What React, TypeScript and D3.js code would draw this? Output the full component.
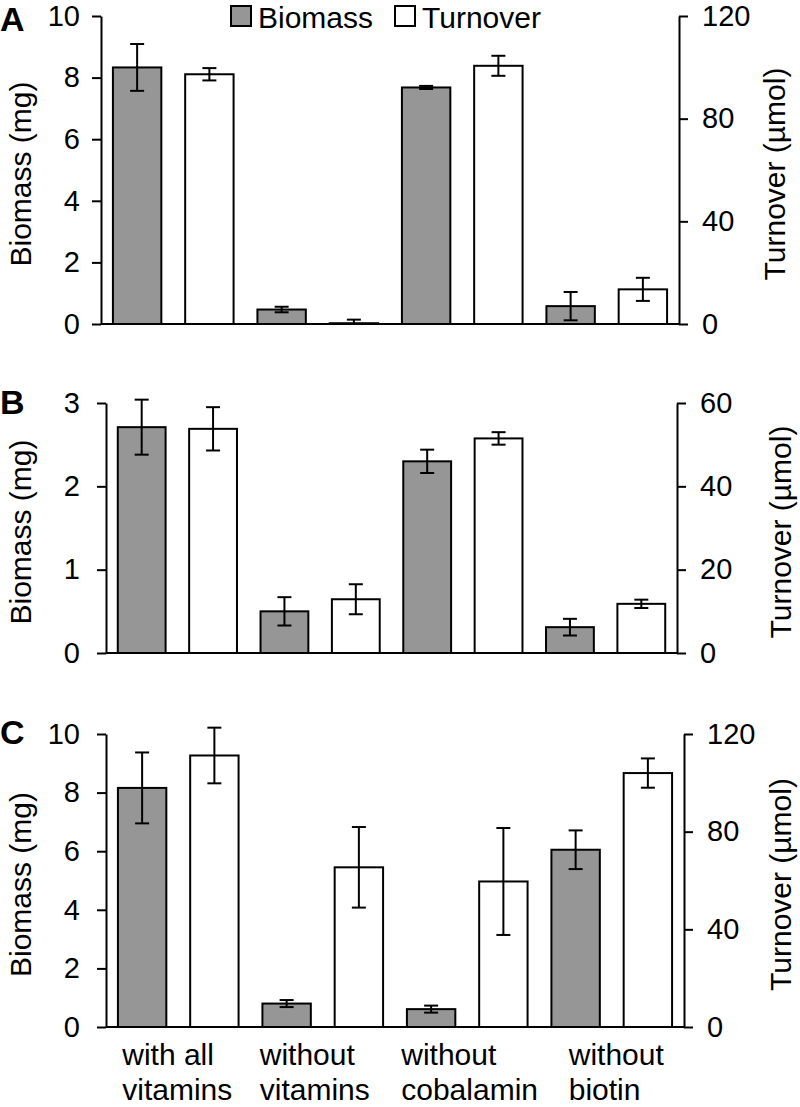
import * as d3 from 'd3';
import { useEffect, useRef } from 'react';

// category labels, two lines each
const categoryLines: string[][] = [
  ['with all', 'vitamins'],
  ['without', 'vitamins'],
  ['without', 'cobalamin'],
  ['without', 'biotin'],
];
const seriesNames = ['Biomass', 'Turnover'];

// panel A
const biomassA = [8.33, 0.47, 7.68, 0.58];
const biomassErrA = [0.76, 0.09, 0.05, 0.46];
const turnoverA = [97.3, 0.3, 100.6, 13.5];
const turnoverErrA = [2.4, 1.4, 3.9, 4.5];

// panel B
const biomassB = [2.71, 0.5, 2.3, 0.31];
const biomassErrB = [0.33, 0.17, 0.14, 0.1];
const turnoverB = [53.8, 12.9, 51.5, 11.8];
const turnoverErrB = [5.2, 3.6, 1.5, 1.0];

// panel C
const biomassC = [8.16, 0.8, 0.61, 6.05];
const biomassErrC = [1.21, 0.12, 0.12, 0.66];
const turnoverC = [111.2, 65.4, 59.6, 104.0];
const turnoverErrC = [11.4, 16.5, 21.9, 6.0];

// axis ticks
const biomassTicksA = [0, 2, 4, 6, 8, 10];
const turnoverTicksA = [0, 40, 80, 120];
const biomassTicksB = [0, 1, 2, 3];
const turnoverTicksB = [0, 20, 40, 60];
const biomassTicksC = [0, 2, 4, 6, 8, 10];
const turnoverTicksC = [0, 40, 80, 120];

const panels = [
  { label: 'A', bio: biomassA, bioErr: biomassErrA, turn: turnoverA, turnErr: turnoverErrA,
    bioTicks: biomassTicksA, turnTicks: turnoverTicksA,
    left: 101, right: 679, top: 16, bottom: 324, labelY: 31, rightTitleX: 785 },
  { label: 'B', bio: biomassB, bioErr: biomassErrB, turn: turnoverB, turnErr: turnoverErrB,
    bioTicks: biomassTicksB, turnTicks: turnoverTicksB,
    left: 106, right: 677, top: 403, bottom: 653, labelY: 414, rightTitleX: 791 },
  { label: 'C', bio: biomassC, bioErr: biomassErrC, turn: turnoverC, turnErr: turnoverErrC,
    bioTicks: biomassTicksC, turnTicks: turnoverTicksC,
    left: 106, right: 684, top: 734, bottom: 1027, labelY: 744, rightTitleX: 791 },
];

const labelDx = [-56, -63, -66, -43];
const GRAY = '#969696';
const FONT = '"Liberation Sans", Arial, Helvetica, sans-serif';

export default function App() {
  const ref = useRef<SVGSVGElement | null>(null);

  useEffect(() => {
    const svg = d3.select(ref.current);
    svg.selectAll('*').remove();
    const width = 800;
    const height = 1107;
    svg.attr('width', width).attr('height', height).attr('font-family', FONT);

    panels.forEach((p, pi) => {
      const g = svg.append('g');
      const x0 = d3.scaleBand<number>()
        .domain(d3.range(categoryLines.length))
        .range([p.left, p.right]);
      const x1 = d3.scaleBand<string>()
        .domain(seriesNames)
        .range([0, x0.bandwidth()])
        .paddingInner(0.33)
        .paddingOuter(0.165);
      const yL = d3.scaleLinear().domain([0, d3.max(p.bioTicks)!]).range([p.bottom, p.top]);
      const yR = d3.scaleLinear().domain([0, d3.max(p.turnTicks)!]).range([p.bottom, p.top]);

      // bars
      const series = [
        { name: 'Biomass', vals: p.bio, errs: p.bioErr, y: yL, fill: GRAY },
        { name: 'Turnover', vals: p.turn, errs: p.turnErr, y: yR, fill: '#ffffff' },
      ];
      series.forEach(s => {
        s.vals.forEach((v, i) => {
          const bx = x0(i)! + x1(s.name)!;
          g.append('rect')
            .attr('x', bx)
            .attr('y', s.y(v))
            .attr('width', x1.bandwidth())
            .attr('height', s.y(0) - s.y(v))
            .attr('fill', s.fill)
            .attr('stroke', '#000')
            .attr('stroke-width', 2);
        });
      });

      // baseline
      g.append('line')
        .attr('x1', p.left).attr('x2', p.right)
        .attr('y1', yL(0)).attr('y2', yL(0))
        .attr('stroke', '#000').attr('stroke-width', 2);

      // error bars
      series.forEach(s => {
        s.vals.forEach((v, i) => {
          const cx = x0(i)! + x1(s.name)! + x1.bandwidth() / 2;
          const hi = s.y(v + s.errs[i]);
          const lo = s.y(Math.max(0, v - s.errs[i]));
          const eg = g.append('g').attr('stroke', '#000').attr('stroke-width', 2);
          eg.append('line').attr('x1', cx).attr('x2', cx).attr('y1', hi).attr('y2', lo);
          eg.append('line').attr('x1', cx - 7).attr('x2', cx + 7).attr('y1', hi).attr('y2', hi);
          if (v - s.errs[i] > 0) {
            eg.append('line').attr('x1', cx - 7).attr('x2', cx + 7).attr('y1', lo).attr('y2', lo);
          }
        });
      });

      // left axis
      const la = g.append('g')
        .attr('transform', `translate(${p.left},0)`)
        .call(d3.axisLeft(yL).tickValues(p.bioTicks).tickSize(9).tickSizeOuter(0)
          .tickPadding(p.left - 9 - 80).tickFormat(d3.format('d')));
      // right axis
      const ra = g.append('g')
        .attr('transform', `translate(${p.right},0)`)
        .call(d3.axisRight(yR).tickValues(p.turnTicks).tickSize(9).tickSizeOuter(0)
          .tickPadding(14).tickFormat(d3.format('d')));
      [la, ra].forEach(a => {
        a.attr('font-family', FONT).attr('font-size', 29);
        a.selectAll('path, line').attr('stroke', '#000').attr('stroke-width', 2);
        a.selectAll('text').attr('fill', '#000');
      });

      // axis titles
      const cy = (p.top + p.bottom) / 2 + 4;
      g.append('text')
        .attr('transform', `translate(31,${cy}) rotate(-90)`)
        .attr('text-anchor', 'middle')
        .attr('font-size', 30)
        .text('Biomass (mg)');
      g.append('text')
        .attr('transform', `translate(${p.rightTitleX},${cy}) rotate(-90)`)
        .attr('text-anchor', 'middle')
        .attr('font-size', 30)
        .text('Turnover (µmol)');

      // panel label
      g.append('text')
        .attr('x', 0)
        .attr('y', p.labelY)
        .attr('font-size', 34)
        .attr('font-weight', 'bold')
        .text(p.label);

      // category labels under the last panel
      if (pi === panels.length - 1) {
        categoryLines.forEach((lines, i) => {
          const cx = x0(i)! + x0.bandwidth() / 2 + labelDx[i];
          lines.forEach((t, j) => {
            g.append('text')
              .attr('x', cx)
              .attr('y', p.bottom + 38 + j * 35)
              .attr('font-size', 30)
              .text(t);
          });
        });
      }
    });

    // legend
    const legend = svg.append('g');
    const legendItems = [
      { name: seriesNames[0], fill: GRAY, x: 231 },
      { name: seriesNames[1], fill: '#ffffff', x: 395 },
    ];
    legendItems.forEach(l => {
      legend.append('rect')
        .attr('x', l.x).attr('y', 6).attr('width', 20).attr('height', 20)
        .attr('fill', l.fill).attr('stroke', '#000').attr('stroke-width', 2);
      legend.append('text')
        .attr('x', l.x + 27).attr('y', 28)
        .attr('font-size', 30)
        .text(l.name);
    });
  }, []);

  return <svg ref={ref} style={{ position: 'absolute', left: 0, top: 0 }}></svg>;
}
